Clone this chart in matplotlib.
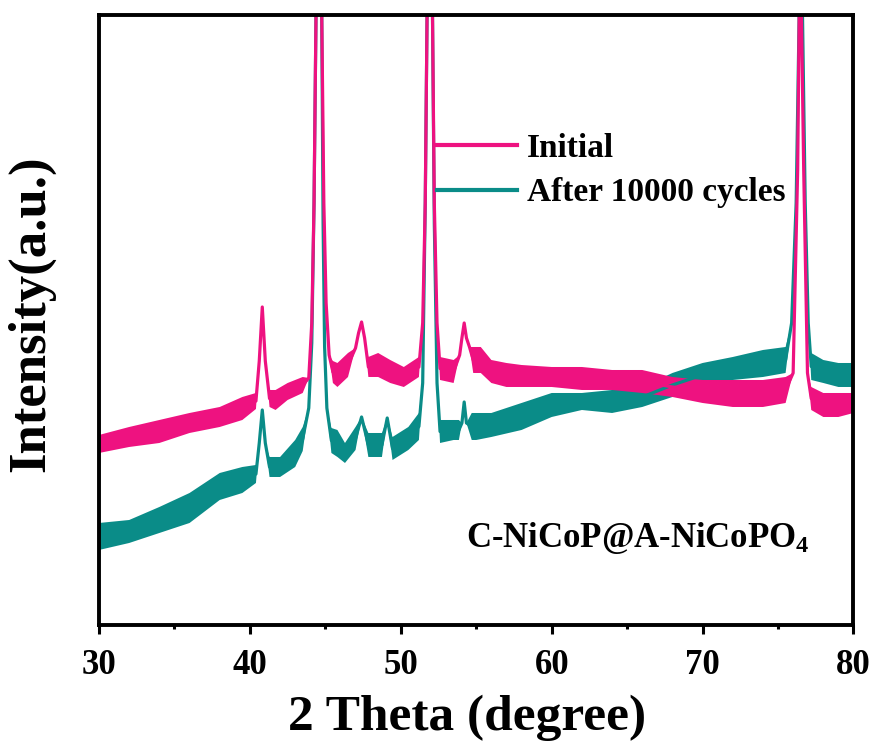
import numpy as np
import matplotlib
matplotlib.use('Agg')
from matplotlib import pyplot as plt
from matplotlib.ticker import MultipleLocator

plt.rcParams['font.family'] = ['Liberation Serif', 'DejaVu Serif']
plt.rcParams['font.weight'] = 'bold'
plt.rcParams['mathtext.default'] = 'regular'

# XRD patterns (intensity in a.u., arbitrary offset)
# each point: 2theta, lower edge and upper edge of the noisy trace
x_init = [30, 32, 34, 36, 38, 39.5, 40.4, 40.62, 40.82, 41.02, 41.3, 41.7, 42.5, 43.5,
          43.9, 44.1, 44.25, 44.38, 44.57, 44.76, 44.9, 45.05, 45.25, 45.5, 45.8, 46.5,
          47.0, 47.2, 47.4, 47.6, 47.85, 48.5, 49.3, 50.2, 51.2,
          51.45, 51.62, 51.74, 51.92, 52.1, 52.22, 52.4, 52.6, 53.5,
          53.9, 54.05, 54.2, 54.35, 54.55, 54.8, 55.3, 56, 57, 58, 60, 62, 64, 66, 68,
          70, 72, 74, 75.5, 76.0, 76.3, 76.4, 76.47, 76.55, 76.7, 76.95, 77.2, 78, 79, 80]
lo_init = [170, 176, 180, 190, 196, 203, 214, 262, 316, 262, 216, 213, 223, 230,
           245, 300, 420, 608, 850, 608, 420, 320, 268, 240, 236, 246,
           275, 290, 301, 285, 246, 246, 240, 236, 246,
           300, 420, 608, 950, 608, 420, 300, 243, 240,
           268, 285, 300, 285, 276, 250, 250, 240, 236, 236, 236, 233, 233, 230, 226,
           220, 216, 216, 220, 250, 453, 608, 820, 608, 453, 250, 213, 206, 206, 210]
hi_init = [188, 196, 203, 210, 216, 226, 230, 262, 316, 262, 233, 233, 240, 246,
           245, 300, 420, 608, 850, 608, 420, 320, 268, 262, 260, 270,
           275, 290, 301, 285, 266, 270, 263, 256, 266,
           300, 420, 608, 950, 608, 420, 300, 266, 263,
           268, 285, 300, 285, 276, 276, 276, 263, 260, 258, 256, 256, 253, 253, 246,
           243, 243, 243, 246, 250, 453, 608, 820, 608, 453, 250, 236, 230, 230, 230]

x_after = [30, 32, 34, 36, 38, 39.5, 40.4, 40.62, 40.82, 41.02, 41.3, 42, 43, 43.5,
           43.9, 44.1, 44.25, 44.38, 44.57, 44.76, 44.85, 44.95, 45.1, 45.4, 45.8, 46.3,
           47.0, 47.4, 47.85, 48.5, 48.75, 49.1, 49.45, 50.5, 51.2,
           51.45, 51.62, 51.74, 51.92, 52.1, 52.22, 52.4, 52.6, 53.5,
           53.85, 54.05, 54.2, 54.35, 54.7, 55, 56, 58, 60, 62, 64, 66, 68,
           70, 72, 74, 75.5, 75.9, 76.2, 76.4, 76.52, 76.62, 76.8, 77.0, 77.2, 78, 79, 80]
lo_after = [73, 80, 90, 100, 123, 130, 140, 180, 213, 180, 146, 146, 156, 172,
            215, 280, 420, 608, 850, 608, 400, 276, 215, 170, 166, 160,
            173, 206, 166, 166, 166, 205, 163, 173, 183,
            240, 420, 608, 950, 608, 400, 240, 180, 183,
            183, 200, 221, 200, 183, 183, 186, 193, 206, 213, 210, 216, 226,
            236, 243, 246, 250, 300, 420, 608, 820, 608, 420, 300, 243, 240, 236, 236]
hi_after = [100, 103, 116, 130, 150, 156, 158, 180, 213, 180, 166, 166, 183, 196,
            215, 280, 420, 608, 850, 608, 400, 276, 215, 195, 193, 180,
            196, 206, 190, 190, 190, 205, 186, 196, 210,
            240, 420, 608, 950, 608, 400, 240, 203, 203,
            203, 200, 221, 200, 210, 210, 210, 220, 230, 230, 233, 236, 250,
            260, 266, 273, 276, 300, 420, 608, 820, 608, 420, 300, 270, 263, 260, 260]

pink = '#EE1280'
teal = '#0A8C88'

fig = plt.figure(figsize=(8.77, 7.42), dpi=100)
ax = fig.add_axes([0.1129, 0.1577, 0.8603, 0.8221])

series = [(x_after, lo_after, hi_after, teal, 'After 10000 cycles'),
          (x_init, lo_init, hi_init, pink, 'Initial')]
handles = {}
for x, lo, hi, col, lab in series:
    x = np.array(x)
    lo = np.array(lo, dtype=float)
    hi = np.array(hi, dtype=float)
    ax.fill_between(x, lo, hi, color=col, lw=0)
    line, = ax.plot(x, (lo + hi) / 2, color=col, lw=2.3, label=lab)
    handles[lab] = line

ax.set_xlim(30, 80)
ax.set_ylim(-2, 608)
ax.set_yticks([])
ax.xaxis.set_major_locator(MultipleLocator(10))
ax.xaxis.set_minor_locator(MultipleLocator(5))
ax.tick_params(axis='x', which='major', direction='out', length=6.5, width=2.2,
               labelsize=25, pad=11)
ax.tick_params(axis='x', which='minor', direction='out', length=3, width=2.2)
for s in ax.spines.values():
    s.set_linewidth(2.8)

ax.set_xlabel('2 Theta (degree)', fontsize=37, fontweight='bold')
ax.xaxis.set_label_coords(0.488, -0.115)
ax.set_ylabel('Intensity(a.u.)', fontsize=38, fontweight='bold')
ax.yaxis.set_label_coords(-0.058, 0.51)

leg = ax.legend([handles['Initial'], handles['After 10000 cycles']],
                ['Initial', 'After 10000 cycles'],
                loc='upper left', bbox_to_anchor=(0.448, 0.807), frameon=False,
                fontsize=24, handlelength=2.4, handletextpad=0.3,
                labelspacing=0.41, borderpad=0, borderaxespad=0)
for l in leg.get_lines():
    l.set_linewidth(3)

ax.text(0.486, 0.128, 'C-NiCoP@A-NiCoPO$_4$', transform=ax.transAxes,
        fontsize=25, fontweight='bold')

fig.savefig('out.png', dpi=100)
